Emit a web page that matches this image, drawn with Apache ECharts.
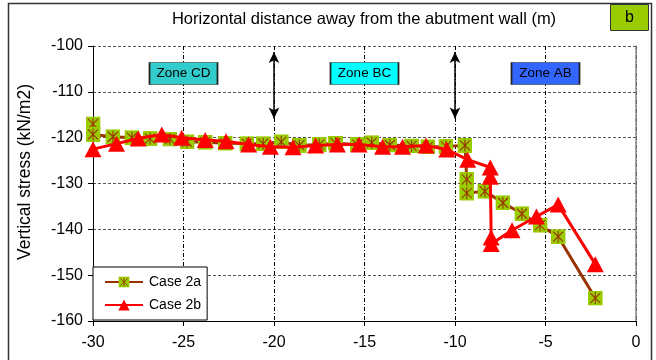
<!DOCTYPE html>
<html>
<head>
<meta charset="utf-8">
<script src="https://cdn.jsdelivr.net/npm/echarts@6/dist/echarts.min.js"></script>
<style>
  html, body { margin: 0; padding: 0; background: #fff; }
  #chart { width: 656px; height: 360px; }
</style>
</head>
<body>
<div id="chart"></div>
<script>
// Horizontal distance (m) and vertical stress (kN/m2) for each case
const case2aX = [-30, -30, -28.9, -27.85, -26.85, -25.75, -24.8, -23.8, -22.7, -21.5, -20.6, -19.6, -18.6, -17.5, -16.6, -15.4, -14.6, -13.6, -12.4, -11.5, -10.5, -9.45, -9.35, -9.35, -8.35, -7.35, -6.3, -5.3, -4.3, -2.25];
const case2aY = [-117, -119.3, -119.8, -120, -120.2, -120.3, -120.9, -121, -121.2, -121.3, -121.3, -120.9, -121.7, -121.5, -121.2, -121.5, -121.1, -121.6, -121.8, -122, -121.9, -121.7, -129.1, -132.1, -131.7, -134.2, -136.6, -139.1, -141.6, -155];

const case2bX = [-30, -28.7, -27.5, -26.2, -25.1, -23.8, -22.65, -21.4, -20.2, -18.95, -17.7, -16.5, -15.3, -14.0, -12.9, -11.6, -10.45, -9.3, -8.05, -8.05, -8.0, -8.0, -6.85, -5.5, -4.3, -2.25];
const case2bY = [-122.5, -121.3, -120.2, -119.3, -120.0, -120.5, -120.8, -121.5, -122.0, -122.1, -121.7, -121.5, -121.5, -122.0, -122.0, -121.7, -122.6, -124.8, -126.5, -128.5, -141.8, -143.2, -140.2, -137.2, -134.6, -147.6];

// Zone annotations and zone boundaries
const zoneNames = ['Zone CD', 'Zone BC', 'Zone AB'];
const zoneX = [-25, -15, -5];
const zoneY = [-106, -106, -106];
const boundaryX = [-20, -10];
const boundaryTop = -101.3;
const boundaryBottom = -115.8;

// Axis ticks
const xMin = -30, xMax = 0, xStep = 5;
const yMin = -160, yMax = -100, yStep = 10;

const zoneFill = ['#33CCCC', '#00FFFF', '#3366FF'];
const FONT = "'Liberation Sans', Arial, sans-serif";

const pairs = (xs, ys) => xs.map((x, i) => [x, ys[i]]);

// Green square marker with a brown asterisk
const squareSvg =
  "<svg xmlns='http://www.w3.org/2000/svg' width='30' height='30' viewBox='0 0 15 15'>" +
  "<rect width='15' height='15' fill='#99CC00'/>" +
  "<path d='M2.5 2.5L12.5 12.5M12.5 2.5L2.5 12.5M7.5 1.5V13.5' stroke='#993300' stroke-width='1.1' fill='none'/>" +
  "</svg>";
const squareSymbol = 'image://data:image/svg+xml;charset=utf-8,' + encodeURIComponent(squareSvg);

const chart = echarts.init(document.getElementById('chart'), null, { renderer: 'canvas' });

chart.setOption({
  animation: false,
  backgroundColor: '#ffffff',
  textStyle: { fontFamily: FONT },
  grid: { left: 93, right: 20, top: 46, bottom: 39 },
  legend: {
    orient: 'vertical',
    left: 93,
    top: 267,
    padding: [8, 6, 8, 11],
    itemGap: 9,
    itemWidth: 38,
    itemHeight: 14,
    backgroundColor: '#ffffff',
    borderColor: '#000000',
    borderWidth: 1,
    textStyle: { fontSize: 14, color: '#000', fontFamily: FONT, padding: [0, 0, 0, 1] },
    data: ['Case 2a', 'Case 2b'],
    z: 10
  },
  xAxis: {
    type: 'value',
    min: xMin, max: xMax, interval: xStep,
    axisLine: { show: true, onZero: false, lineStyle: { color: '#000', width: 1 } },
    axisTick: { show: true, length: 5, lineStyle: { color: '#000' } },
    axisLabel: { fontSize: 16, color: '#000', margin: 14, fontFamily: FONT },
    splitLine: { show: true, lineStyle: { color: '#000', width: 1, type: [4, 2, 1, 2] } }
  },
  yAxis: [{
    type: 'value',
    min: yMin, max: yMax, interval: yStep,
    axisLine: { show: true, onZero: false, lineStyle: { color: '#000', width: 1 } },
    axisTick: { show: true, length: 5, lineStyle: { color: '#000' } },
    axisLabel: { fontSize: 16, color: '#000', margin: 10, fontFamily: FONT },
    splitLine: { show: true, lineStyle: { color: '#555', width: 1, type: [3, 2] } }
  }, {
    type: 'value',
    position: 'right',
    min: yMin, max: yMax, interval: yStep,
    axisLine: { show: true, lineStyle: { color: '#888', width: 1.5 } },
    axisTick: { show: false },
    axisLabel: { show: false },
    splitLine: { show: false }
  }],
  graphic: [
    {
      type: 'rect',
      shape: { x: 8.5, y: 3.5, width: 643, height: 370 },
      style: { fill: 'none', stroke: '#333', lineWidth: 1.5 },
      silent: true
    },
    {
      type: 'text',
      x: 364, y: 19,
      style: {
        text: 'Horizontal distance away from the abutment wall (m)',
        fill: '#000', font: '16.5px ' + FONT,
        textAlign: 'center', textVerticalAlign: 'middle'
      },
      silent: true
    },
    {
      type: 'text',
      x: 25, y: 172,
      rotation: Math.PI / 2,
      style: {
        text: 'Vertical stress (kN/m2)',
        fill: '#000', font: '17.5px ' + FONT,
        textAlign: 'center', textVerticalAlign: 'middle'
      },
      silent: true
    },
    {
      type: 'rect',
      shape: { x: 610.5, y: 4.5, width: 38, height: 26 },
      style: { fill: '#99CC00', stroke: '#333', lineWidth: 1 },
      silent: true
    },
    {
      type: 'text',
      x: 629.5, y: 17.5,
      style: { text: 'b', fill: '#000', font: '16px ' + FONT, textAlign: 'center', textVerticalAlign: 'middle' },
      silent: true
    }
  ],
  series: [
    {
      name: 'Case 2a',
      type: 'line',
      data: pairs(case2aX, case2aY),
      symbol: squareSymbol,
      symbolSize: 15,
      showAllSymbol: true,
      lineStyle: { color: '#993300', width: 3 },
      itemStyle: { color: '#993300' },
      z: 3,
      markPoint: {
        silent: true,
        symbol: 'rect',
        symbolSize: [68, 22],
        label: {
          show: true, position: 'inside', formatter: '{b}',
          color: '#000', fontSize: 13.5, fontFamily: FONT
        },
        data: zoneNames.map((n, i) => ({
          name: n,
          coord: [zoneX[i], zoneY[i]],
          itemStyle: { color: zoneFill[i], borderColor: '#222', borderWidth: 1 }
        }))
      },
      markLine: {
        silent: true,
        symbol: ['arrow', 'arrow'],
        symbolSize: [8, 11],
        label: { show: false },
        lineStyle: { color: '#000', width: 1.5, type: 'solid' },
        data: boundaryX.map(x => [{ coord: [x, boundaryTop] }, { coord: [x, boundaryBottom] }])
      }
    },
    {
      name: 'Case 2b',
      type: 'line',
      data: pairs(case2bX, case2bY),
      symbol: 'triangle',
      symbolSize: [17, 16],
      showAllSymbol: true,
      lineStyle: { color: '#FF0000', width: 3 },
      itemStyle: { color: '#FF0000' },
      z: 4
    }
  ]
});
</script>
</body>
</html>
